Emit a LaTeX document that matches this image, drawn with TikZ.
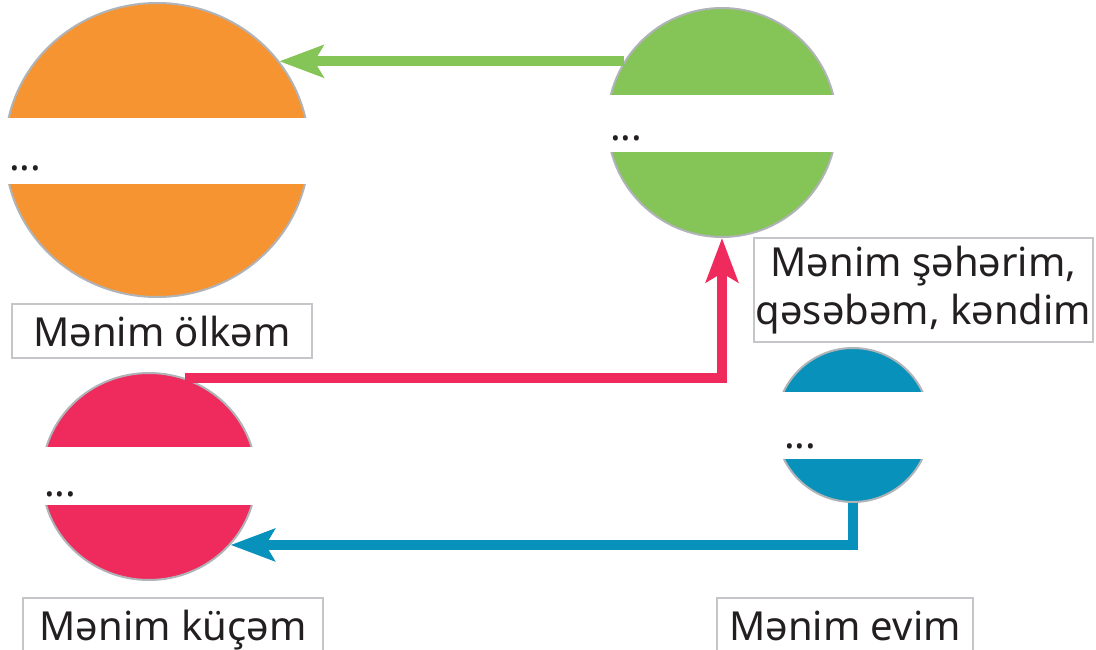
\documentclass[tikz,border=0pt]{standalone}
\usepackage{fontspec}
\setmainfont{Noto Sans}
\usetikzlibrary{arrows.meta,positioning,shapes.geometric}
\definecolor{landorange}{RGB}{247,148,50}
\definecolor{citygreen}{RGB}{133,196,86}
\definecolor{streetred}{RGB}{239,43,94}
\definecolor{homeblue}{RGB}{8,146,187}
\definecolor{rimgray}{RGB}{176,180,184}
\definecolor{tagline}{RGB}{196,198,202}
\definecolor{inkblack}{RGB}{35,31,32}

\begin{document}
\begin{tikzpicture}[x=1pt,y=-1pt,
  disc/.style={ellipse,draw=rimgray,line width=2pt,inner sep=0pt},
  band/.style={fill=white},
  dots/.style={anchor=base west,inner sep=0pt,text=inkblack,font=\fontsize{40}{48}\selectfont},
  tag/.style={draw=tagline,line width=1.5pt,inner sep=0pt,align=center,text=inkblack,font=\fontsize{40}{48}\selectfont},
  link/.style={line width=10pt,-{Stealth[length=44pt,width=32pt,inset=9pt]}}]
  \useasboundingbox (0,0) rectangle (1096,650);
  % circles
  \node[disc,fill=landorange,minimum width=304pt,minimum height=294pt] (ulke) at (157,150) {};
  \node[disc,fill=citygreen,minimum width=229pt,minimum height=229pt] (seher) at (722,122.5) {};
  \node[disc,fill=streetred,minimum width=214pt,minimum height=207pt] (kuce) at (149,476.5) {};
  \node[disc,fill=homeblue,minimum width=154pt,minimum height=154pt] (ev) at (853,425) {};
  % white bands
  \fill[band] (0,118) rectangle (320,184);
  \fill[band] (600,95) rectangle (845,152);
  \fill[band] (35,447) rectangle (265,505);
  \fill[band] (770,392) rectangle (935,459);
  \node[dots] (ulkedots) at (9,171) {...};
  \node[dots] (seherdots) at (610,141) {...};
  \node[dots] (kucedots) at (44,496) {...};
  \node[dots] (evdots) at (784,448) {...};
  % arrows
  \draw[link,citygreen] (seher.148) -- (seher.148 -| ulke.36);
  \draw[link,streetred] (kuce.70) -| (seher.south);
  \draw[link,homeblue] (ev.south) |- (kuce.-40);
  % labels
  \node[tag,minimum width=300pt,minimum height=54pt,text height=30pt,text depth=0pt] (ulketag) at (162,331) {Mənim ölkəm};
  \node[tag,minimum width=339pt,minimum height=104pt] (sehertag) at (923.5,290) {Mənim şəhərim,\\qəsəbəm, kəndim};
  \node[tag,minimum width=300pt,minimum height=54pt,text height=30pt,text depth=0pt] (kucetag) at (173,625) {Mənim küçəm};
  \node[tag,minimum width=256pt,minimum height=54pt,text height=30pt,text depth=0pt] (evtag) at (845,625) {Mənim evim};
\end{tikzpicture}
\end{document}
